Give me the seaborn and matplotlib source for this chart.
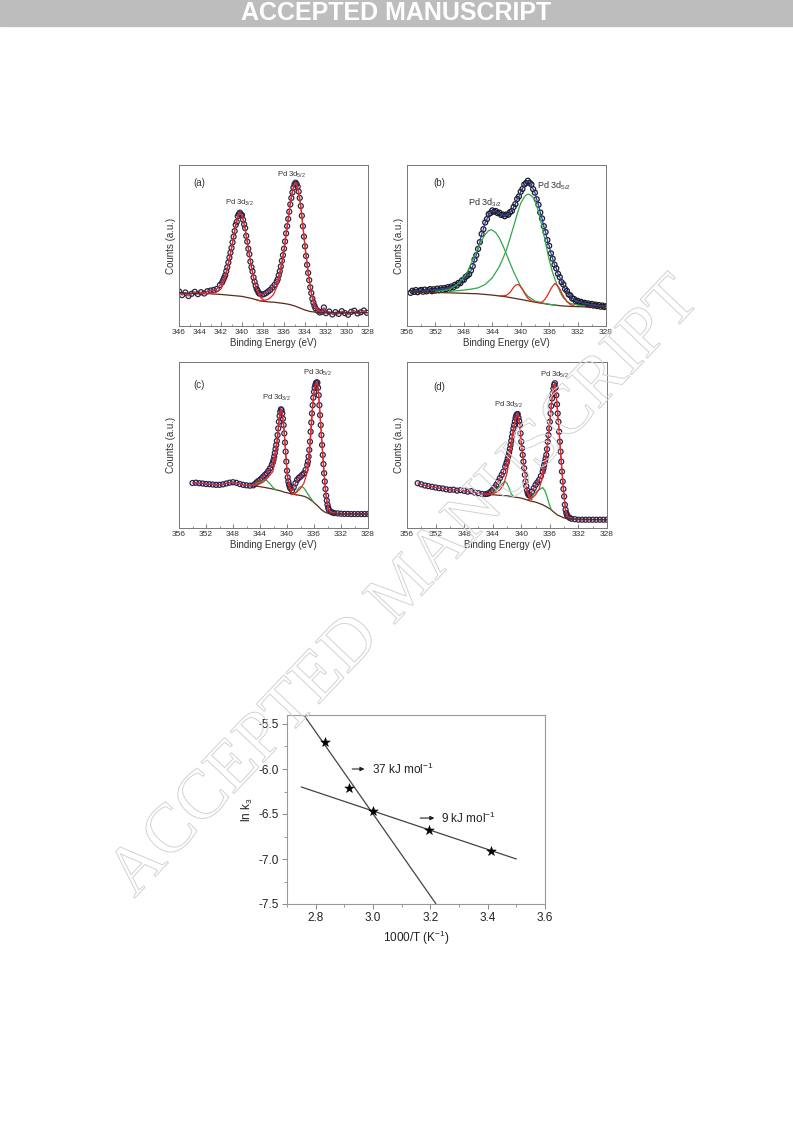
import numpy as np
import pandas as pd
import seaborn as sns
import matplotlib
matplotlib.use("Agg")
import matplotlib.pyplot as plt
import matplotlib.patheffects as pe
from matplotlib.patches import Rectangle
from matplotlib.ticker import MultipleLocator, FormatStrFormatter

# ---------------- XPS panel (a) ----------------
be_a = [346.0, 345.7, 345.4, 345.1, 344.8, 344.5, 344.2, 343.9, 343.6, 343.3, 343.0,
        342.7, 342.4, 342.1, 341.9,
        341.8, 341.7, 341.6, 341.5, 341.4, 341.3, 341.2, 341.1, 341.0, 340.9,
        340.8, 340.7, 340.6, 340.5, 340.4, 340.3, 340.2, 340.1, 340.0, 339.9,
        339.8, 339.7, 339.6, 339.5, 339.4, 339.3, 339.2, 339.1, 339.0, 338.9,
        338.8, 338.7, 338.6, 338.5, 338.4, 338.3,
        338.1, 337.9, 337.7, 337.5, 337.3, 337.1, 336.9, 336.7,
        336.6, 336.5, 336.4, 336.3, 336.2, 336.1, 336.0, 335.9, 335.8, 335.7,
        335.6, 335.5, 335.4, 335.3, 335.2, 335.1, 335.0, 334.9, 334.8, 334.7,
        334.6, 334.5, 334.4, 334.3, 334.2, 334.1, 334.0, 333.9, 333.8, 333.7,
        333.6, 333.5, 333.4, 333.3, 333.2, 333.1, 333.0,
        332.8, 332.6, 332.4, 332.2, 332.0,
        331.7, 331.4, 331.1, 330.8, 330.5, 330.2, 329.9, 329.6, 329.3, 329.0, 328.7, 328.4, 328.1]
cnt_a = [21.5, 19.2, 20.8, 18.6, 20.0, 21.2, 19.8, 21.0, 20.2, 21.6, 22.0,
         22.4, 23.0, 25.5, 27.0,
         28.5, 30.0, 31.5, 34.0, 36.5, 39.5, 42.5, 45.5, 48.5, 52.0,
         55.5, 59.0, 62.8, 64.6, 68.2, 69.5, 70.4, 69.2, 68.9, 66.0,
         63.2, 60.8, 56.0, 52.4, 48.0, 44.6, 40.0, 36.5, 33.9, 30.2,
         27.5, 25.0, 23.0, 21.8, 20.5, 20.0,
         19.5, 19.8, 20.5, 21.5, 22.5, 24.0, 25.5, 27.5,
         29.0, 31.5, 34.0, 37.0, 40.5, 44.0, 48.0, 52.5, 57.5, 62.0,
         66.5, 71.0, 75.5, 79.5, 83.0, 86.0, 88.0, 89.0, 88.2, 86.5,
         83.5, 79.5, 74.5, 68.5, 62.0, 55.5, 49.5, 43.5, 38.0, 33.0,
         28.5, 24.0, 20.5, 17.0, 14.5, 12.5, 11.0,
         9.5, 8.4, 8.8, 11.5, 8.0,
         9.0, 7.2, 8.6, 7.5, 9.2, 8.0, 7.0, 8.8, 9.5, 7.8, 8.5, 9.6, 8.2]
bg_be_a = [346, 345, 344, 343, 342, 341, 340, 339, 338.3, 337.5, 337, 336, 335.5, 335,
           334.5, 334, 333.5, 333, 332, 328]
bg_a = [20.6, 20.4, 20.2, 20.0, 19.6, 19.0, 18.4, 17.0, 15.6, 15.0, 14.8, 14.0, 13.4, 12.5,
        11.2, 9.9, 9.0, 8.6, 8.2, 8.2]
r1_be_a = [344.0, 343.0, 342.5, 342.0, 341.6, 341.2, 340.9, 340.6, 340.4, 340.2, 340.0,
           339.8, 339.5, 339.2, 338.9, 338.6, 338.2, 337.8]
r1_a = [20.2, 20.3, 20.8, 23.0, 29.5, 41.0, 51.5, 62.6, 67.8, 70.0, 68.7,
        63.7, 52.9, 40.4, 29.9, 22.4, 17.4, 15.6]
r2_be_a = [338.6, 338.2, 337.8, 337.4, 337.0, 336.6, 336.3, 336.0, 335.7, 335.4, 335.2,
           335.0, 334.8, 334.6, 334.4, 334.2, 334.0, 333.7, 333.4, 333.0, 332.5]
r2_a = [16.2, 15.6, 16.0, 17.0, 19.5, 25.5, 34.5, 46.5, 61.5, 76.5, 84.0,
        88.2, 87.8, 82.5, 73.5, 62.0, 49.8, 33.5, 21.0, 12.0, 8.8]

# ---------------- XPS panel (b) ----------------
be_b = [355.5, 355.25,
        355.0, 354.75, 354.5, 354.25, 354.0, 353.75, 353.5, 353.25,
        353.0, 352.75, 352.5, 352.25, 352.0, 351.75, 351.5, 351.25,
        351.0, 350.75, 350.5, 350.25, 350.0, 349.75, 349.5, 349.25,
        349.0, 348.75, 348.5, 348.25, 348.0, 347.75, 347.5, 347.25,
        347.0, 346.75, 346.5, 346.25, 346.0, 345.75, 345.5, 345.25,
        345.0, 344.75, 344.5, 344.25, 344.0, 343.75, 343.5, 343.25,
        343.0, 342.75, 342.5, 342.25, 342.0, 341.75, 341.5, 341.25,
        341.0, 340.75, 340.5, 340.25, 340.0, 339.75, 339.5, 339.25,
        339.0, 338.75, 338.5, 338.25, 338.0, 337.75, 337.5, 337.25,
        337.0, 336.75, 336.5, 336.25, 336.0, 335.75, 335.5, 335.25,
        335.0, 334.75, 334.5, 334.25, 334.0, 333.75, 333.5, 333.25,
        333.0, 332.75, 332.5, 332.25, 332.0, 331.75, 331.5, 331.25,
        331.0, 330.75, 330.5, 330.25, 330.0, 329.75, 329.5, 329.25,
        329.0, 328.75, 328.5, 328.25, 328.0]
cnt_b = [20.6, 21.9,
         21.2, 22.3, 21.0, 21.9, 22.4, 21.3, 22.6, 21.5,
         22.2, 22.9, 21.6, 22.8, 22.0, 23.2, 22.2, 23.4,
         22.5, 23.6, 22.9, 24.1, 23.3, 24.6, 24.0, 25.6,
         25.1, 26.8, 26.6, 28.4, 28.7, 30.5, 31.3, 32.2,
         34.5, 37.2, 41.3, 44.0, 47.9, 52.1, 57.2, 60.1,
         64.3, 66.4, 69.5, 70.2, 71.8, 71.0, 71.4, 70.1,
         70.4, 69.0, 69.2, 68.2, 69.3, 69.1, 70.7, 71.4,
         73.9, 75.7, 78.9, 80.5, 83.4, 85.1, 87.9, 88.8,
         90.2, 89.0, 87.9, 85.0, 82.8, 78.7, 75.3, 70.5,
         66.8, 62.0, 58.3, 53.4, 49.8, 45.1, 41.8, 38.1,
         35.8, 32.4, 30.3, 27.2, 25.8, 23.0, 21.8, 19.6,
         18.9, 17.1, 16.8, 15.4, 15.7, 14.6, 15.0, 13.9,
         14.4, 13.4, 14.0, 13.0, 13.7, 12.7, 13.3, 12.4,
         13.0, 12.0, 12.7, 11.8, 12.3]
bg_be_b = [355.5, 352, 350, 348, 346, 344, 342, 340, 338, 336, 334, 332, 330, 328]
bg_b = [21.0, 20.8, 20.6, 20.3, 20.0, 19.2, 18.1, 16.5, 14.8, 13.4, 12.4, 12.0, 11.8, 11.8]
g1_be_b = [352, 351, 350, 349, 348, 347.5, 347, 346.5, 346, 345.5, 345, 344.5, 344.1,
           343.5, 343, 342.5, 342, 341.5, 341, 340.5, 340, 339.5, 339, 338, 337, 336, 335]
g1_b = [21.5, 21.9, 22.9, 25.4, 30.4, 33.6, 38.4, 43.5, 48.6, 53.0, 56.9, 59.3, 59.8,
        58.0, 54.6, 49.9, 44.5, 39.0, 33.7, 29.1, 24.5, 21.2, 18.5, 15.5, 14.4, 13.5, 12.9]
g2_be_b = [350, 348, 347, 346, 345, 344, 343, 342.5, 342, 341.5, 341, 340.5, 340, 339.5,
           339.2, 338.9, 338.6, 338.3, 338, 337.5, 337, 336.5, 336, 335.5, 335, 334.5,
           334, 333.5, 333, 332, 331]
g2_b = [21.5, 22.3, 22.9, 23.7, 25.8, 29.9, 37.0, 42.0, 47.4, 54.5, 61.9, 69.5, 76.3, 80.0,
        81.5, 81.9, 81.2, 80.0, 78.4, 71.0, 61.9, 51.5, 41.2, 33.0, 26.8, 21.5,
        17.5, 15.3, 14.0, 13.0, 12.4]
r1_be_b = [343, 342.5, 342, 341.5, 341, 340.7, 340.4, 340.1, 339.8, 339.5, 339, 338.5, 338]
r1_b = [18.7, 18.7, 19.1, 20.9, 24.0, 25.4, 25.8, 24.9, 23.1, 20.6, 17.3, 15.6, 14.8]
r2_be_b = [337.5, 337, 336.6, 336.2, 335.9, 335.6, 335.2, 334.8, 334.5, 334.2, 333.9,
           333.5, 333, 332.5]
r2_b = [14.4, 14.8, 16.5, 19.2, 21.8, 24.2, 26.4, 25.0, 23.0, 20.2, 17.8, 15.2, 13.3, 12.5]

# ---------------- XPS panel (c) ----------------
be_c = [354.0, 353.5, 353.0, 352.5, 352.0, 351.5, 351.0, 350.5, 350.0, 349.5,
        349.0, 348.5, 348.0, 347.5, 347.0, 346.5, 346.0, 345.5, 345.0,
        344.75, 344.5, 344.25, 344.0, 343.75, 343.5, 343.25, 343.0, 342.75, 342.5, 342.25,
        342.1, 342.0, 341.9, 341.8, 341.7, 341.6, 341.5, 341.4, 341.3, 341.2,
        341.1, 341.0, 340.9, 340.8, 340.7, 340.6, 340.5, 340.4, 340.3, 340.2,
        340.1, 340.0, 339.9, 339.8, 339.7, 339.6, 339.5,
        339.25, 339.0, 338.75, 338.5, 338.25, 338.0, 337.75, 337.5, 337.25, 337.0,
        336.9, 336.8, 336.7, 336.6, 336.5, 336.4, 336.3, 336.2, 336.1, 336.0,
        335.9, 335.8, 335.7, 335.6, 335.5, 335.4, 335.3, 335.2, 335.1, 335.0,
        334.9, 334.8, 334.7, 334.6, 334.5, 334.4, 334.3, 334.2, 334.1, 334.0,
        333.9, 333.8,
        333.5, 333.25, 333.0, 332.5, 332.0, 331.5, 331.0, 330.5, 330.0, 329.5, 329.0,
        328.5, 328.0]
cnt_c = [27.1, 27.3, 27.0, 26.8, 26.5, 26.4, 26.2, 26.0, 26.0, 26.3,
         26.8, 27.3, 27.6, 27.2, 26.5, 26.0, 25.7, 25.5, 25.7,
         26.5, 27.5, 28.3, 29.0, 30.0, 31.0, 32.0, 33.0, 34.5, 36.0, 38.0,
         39.5, 41.0, 43.0, 45.2, 47.6, 50.0, 52.5, 56.0, 60.0, 64.0,
         67.5, 70.0, 71.5, 71.0, 69.0, 65.8, 62.0, 57.0, 51.5, 46.0,
         40.0, 34.5, 30.5, 28.0, 26.2, 24.8, 23.8,
         22.6, 24.5, 27.0, 29.0, 30.2, 31.0, 32.0, 33.0, 35.0, 38.0,
         40.0, 43.0, 47.0, 52.0, 58.0, 63.5, 69.0, 74.0, 78.5, 82.0,
         84.5, 86.2, 87.3, 87.8, 87.5, 84.5, 80.0, 74.0, 68.0, 62.0,
         56.0, 50.0, 44.0, 38.5, 33.0, 28.0, 23.5, 19.5, 16.5, 14.0,
         12.3, 11.0,
         9.8, 9.3, 9.0, 8.8, 8.6, 8.5, 8.5, 8.4, 8.4, 8.4, 8.4,
         8.4, 8.4]
bg_be_c = [345.2, 344, 343, 342, 341, 340.4, 339, 338, 337.4, 336.8, 336.2, 335.5, 334.9,
           334.4, 333.9, 333, 328]
bg_c = [25.7, 24.9, 24.2, 23.4, 22.4, 21.6, 20.3, 19.6, 19.0, 17.8, 16.0, 13.5, 11.0,
        9.6, 8.8, 8.5, 8.4]
g1_be_c = [345.2, 344.6, 344.0, 343.6, 343.3, 343.0, 342.6, 342.2, 341.8, 341.4]
g1_c = [25.7, 26.3, 27.5, 28.6, 29.0, 28.6, 27.0, 25.0, 23.4, 22.6]
g2_be_c = [339.2, 338.8, 338.5, 338.2, 337.9, 337.6, 337.3, 337.0, 336.7, 336.4, 336.1]
g2_c = [20.3, 21.0, 22.5, 24.3, 25.0, 24.5, 23.0, 21.0, 19.2, 17.5, 15.8]
r1_be_c = [345.2, 344.5, 344.0, 343.4, 342.8, 342.1, 341.8, 341.5, 341.2, 341.0, 340.9,
           340.7, 340.5, 340.3, 340.1, 339.9, 339.7, 339.4, 339.0, 338.6]
r1_c = [25.7, 26.0, 26.6, 28.0, 30.5, 34.0, 39.5, 50.0, 63.0, 69.5, 71.3,
        68.8, 61.8, 51.2, 39.8, 30.0, 25.3, 22.0, 20.6, 19.8]
r2_be_c = [339.4, 339.0, 338.5, 338.0, 337.5, 337.0, 336.7, 336.5, 336.2, 336.0, 335.8,
           335.6, 335.4, 335.2, 335.0, 334.8, 334.6, 334.4, 334.2, 334.0, 333.8, 333.5]
r2_c = [20.1, 20.6, 21.8, 23.8, 27.0, 33.5, 42.0, 54.0, 72.5, 81.5, 86.0,
        87.6, 84.4, 73.8, 61.8, 49.8, 38.3, 27.8, 19.3, 13.9, 10.8, 9.4]

# ---------------- XPS panel (d) ----------------
be_d = [354.5, 354.0, 353.5, 353.0, 352.5, 352.0, 351.5, 351.0, 350.5, 350.0,
        349.5, 349.0, 348.5, 348.0, 347.5, 347.0, 346.5, 346.0, 345.5, 345.0,
        344.75, 344.5, 344.25, 344.0, 343.75, 343.5, 343.25, 343.0, 342.75, 342.5, 342.25,
        342.1, 342.0, 341.9, 341.8, 341.7, 341.6, 341.5, 341.4, 341.3, 341.2,
        341.1, 341.0, 340.9, 340.8, 340.7, 340.6, 340.5, 340.4, 340.3, 340.2,
        340.1, 340.0, 339.9, 339.8, 339.7, 339.6, 339.5, 339.4, 339.3, 339.2,
        339.1, 339.0, 338.9, 338.8,
        338.5, 338.25, 338.0, 337.75, 337.5, 337.25, 337.0,
        336.9, 336.8, 336.7, 336.6, 336.5, 336.4, 336.3, 336.2, 336.1, 336.0,
        335.9, 335.8, 335.7, 335.6, 335.5, 335.4, 335.3, 335.2, 335.1, 335.0,
        334.9, 334.8, 334.7, 334.6, 334.5, 334.4, 334.3, 334.2, 334.1, 334.0,
        333.9, 333.8, 333.7, 333.6, 333.5,
        333.25, 333.0, 332.5, 332.0, 331.5, 331.0, 330.5, 330.0, 329.5, 329.0,
        328.5, 328.0]
cnt_d = [27.0, 26.3, 25.6, 25.2, 24.8, 24.4, 24.0, 23.8, 23.3, 23.0,
         23.1, 22.5, 22.8, 22.4, 21.9, 22.2, 21.3, 21.0, 20.5, 20.4,
         20.6, 21.0, 22.0, 23.0, 24.4, 26.0, 28.0, 30.0, 32.0, 34.0, 37.0,
         38.8, 40.0, 41.8, 43.6, 45.6, 47.7, 50.0, 52.5, 55.0, 57.5,
         60.0, 62.0, 64.2, 66.3, 67.8, 68.5, 68.6, 66.5, 64.5, 62.0,
         57.0, 52.0, 48.0, 44.0, 40.0, 36.0, 32.0, 28.0, 25.2, 22.8,
         21.0, 20.1, 19.7, 19.6,
         22.0, 24.0, 26.0, 27.5, 29.0, 31.3, 34.0,
         35.8, 37.8, 39.8, 41.8, 44.0, 47.5, 52.0, 56.0, 60.0, 64.0,
         69.0, 73.5, 78.0, 81.0, 84.0, 86.2, 87.2, 84.5, 80.0, 74.5,
         69.0, 64.0, 58.0, 52.0, 46.0, 40.0, 34.0, 28.0, 23.5, 19.0,
         14.0, 11.0, 9.0, 7.8, 7.0,
         6.2, 5.6, 5.3, 5.0, 5.0, 5.0, 5.0, 5.0, 5.0, 5.0,
         5.0, 5.0]
bg_be_d = [345, 344, 342, 340, 338.5, 338, 337, 336, 335, 334, 333, 328]
bg_d = [20.4, 20.0, 19.4, 18.0, 16.0, 15.6, 14.0, 11.6, 8.0, 6.0, 5.4, 5.0]
g1_be_d = [344.2, 343.6, 343.0, 342.6, 342.3, 342.0, 341.7, 341.4, 341.1]
g1_d = [20.3, 22.5, 25.0, 27.0, 28.0, 27.0, 24.0, 20.5, 19.0]
g2_be_d = [338.8, 338.5, 338.0, 337.5, 337.0, 336.7, 336.4, 336.1, 335.8]
g2_d = [17.5, 19.0, 21.5, 23.0, 24.4, 22.5, 19.0, 14.5, 11.0]
r1_be_d = [345.0, 344.0, 343.5, 343.0, 342.5, 342.0, 341.5, 341.0, 340.7, 340.5, 340.3,
           340.0, 339.7, 339.4, 339.1, 338.8, 338.5]
r1_d = [20.4, 20.5, 21.5, 23.0, 26.0, 33.0, 46.0, 60.5, 67.5, 68.5, 65.0,
        52.0, 40.0, 28.0, 21.0, 18.0, 17.0]
r2_be_d = [339.2, 338.8, 338.5, 338.0, 337.5, 337.0, 336.5, 336.0, 335.7, 335.3, 335.0,
           334.7, 334.4, 334.1, 333.8, 333.5]
r2_d = [17.0, 17.5, 18.0, 20.0, 23.5, 31.0, 43.0, 64.0, 78.0, 87.2, 74.5,
        58.0, 40.0, 23.5, 11.0, 7.0]

# ---------------- Arrhenius plot ----------------
inv_T = [2.832, 2.917, 3.001, 3.195, 3.413]
ln_k3 = [-5.70, -6.21, -6.47, -6.675, -6.91]
fit_hi_x = [2.75, 3.22]
fit_hi_y = [-5.36, -7.50]
fit_lo_x = [2.75, 3.50]
fit_lo_y = [-6.20, -7.00]
ea_text = ["37 kJ mol$^{-1}$", "9 kJ mol$^{-1}$"]

lbl_32 = "Pd 3d$_{3/2}$"
lbl_52 = "Pd 3d$_{5/2}$"

sns.set_theme(style="white")
plt.rcParams["font.family"] = ["Liberation Sans", "DejaVu Sans"]
plt.rcParams["mathtext.default"] = "regular"
plt.rcParams["axes.unicode_minus"] = False

W, H = 793, 1121
fig = plt.figure(figsize=(W / 100, H / 100), dpi=100)


def px_rect(l, t, r, b):
    return [l / W, 1 - b / H, (r - l) / W, (b - t) / H]


RED = "#e5261f"
GREEN = "#2ea84a"
BROWN = "#5a2a18"


def xps_panel(rect, be, cnt, bg_be, bg, comps, env_col, dot_col, xlim, major, minor, texts):
    ax = fig.add_axes(rect)
    sns.scatterplot(x=be, y=cnt, ax=ax, marker="o", s=13, facecolors="none",
                    edgecolor=dot_col, linewidth=0.9, zorder=2)
    sns.lineplot(x=be, y=cnt, ax=ax, color=env_col, lw=0.9, sort=False,
                 estimator=None, zorder=3)
    sns.lineplot(x=bg_be, y=bg, ax=ax, color=BROWN, lw=0.9, sort=False,
                 estimator=None, zorder=3)
    for cbe, cy, col in comps:
        sns.lineplot(x=cbe, y=cy, ax=ax, color=col, lw=0.9, sort=False,
                     estimator=None, zorder=4)
    ax.set_xlim(*xlim)
    ax.set_ylim(0, 100)
    ax.xaxis.set_major_locator(MultipleLocator(major))
    ax.xaxis.set_minor_locator(MultipleLocator(minor))
    ax.tick_params(axis="x", which="major", direction="in", length=3, width=0.6,
                   color="#666", labelsize=6, labelcolor="#333", pad=2, bottom=True)
    ax.tick_params(axis="x", which="minor", direction="in", length=1.6, width=0.5,
                   color="#666", bottom=True)
    ax.tick_params(axis="y", left=False, labelleft=False)
    for s in ax.spines.values():
        s.set_color("#777")
        s.set_linewidth(0.7)
    ax.set_xlabel("Binding Energy (eV)", fontsize=7, color="#333", labelpad=1.5)
    ax.set_ylabel("Counts (a.u.)", fontsize=7, color="#333", labelpad=2)
    for x, y, t, fs in texts:
        ax.text(x, y, t, fontsize=fs, ha="center", va="center", color="#333")
    return ax


xps_panel(px_rect(179, 165, 368, 326), be_a, cnt_a, bg_be_a, bg_a,
          [(r1_be_a, r1_a, RED), (r2_be_a, r2_a, RED)],
          "#c8326e", "#2a2840", (346, 328), 2, 1,
          [(344.1, 88.6, "(a)", 7), (340.2, 76.2, lbl_32, 5.5), (335.25, 93.8, lbl_52, 5.5)])

xps_panel(px_rect(407, 165, 606, 326), be_b, cnt_b, bg_be_b, bg_b,
          [(g1_be_b, g1_b, GREEN), (g2_be_b, g2_b, GREEN),
           (r1_be_b, r1_b, RED), (r2_be_b, r2_b, RED)],
          "#2e3f9e", "#1c1c24", (356, 328), 4, 2,
          [(351.5, 88.6, "(b)", 7), (345.0, 76.6, lbl_32, 6.5), (335.3, 87.0, lbl_52, 6.5)])

xps_panel(px_rect(179, 362, 368, 528), be_c, cnt_c, bg_be_c, bg_c,
          [(g1_be_c, g1_c, GREEN), (g2_be_c, g2_c, GREEN),
           (r1_be_c, r1_c, RED), (r2_be_c, r2_c, RED)],
          "#d0303a", "#2c2450", (356, 328), 4, 2,
          [(353.0, 86.1, "(c)", 7), (341.5, 78.1, lbl_32, 5.5), (335.5, 93.2, lbl_52, 5.5)])

xps_panel(px_rect(407, 362, 607, 528), be_d, cnt_d, bg_be_d, bg_d,
          [(g1_be_d, g1_d, GREEN), (g2_be_d, g2_d, GREEN),
           (r1_be_d, r1_d, RED), (r2_be_d, r2_d, RED)],
          "#d0303a", "#2c2450", (356, 328), 4, 2,
          [(351.5, 85.1, "(d)", 7), (341.8, 74.1, lbl_32, 5.5), (335.3, 92.2, lbl_52, 5.5)])

# Arrhenius plot
ax = fig.add_axes(px_rect(287, 715, 545, 904))
sns.lineplot(x=fit_hi_x, y=fit_hi_y, ax=ax, color="#444", lw=0.9, estimator=None)
sns.lineplot(x=fit_lo_x, y=fit_lo_y, ax=ax, color="#444", lw=0.9, estimator=None)
sns.scatterplot(x=inv_T, y=ln_k3, ax=ax, marker="*", s=50, color="black",
                edgecolor="black", linewidth=0.4, zorder=5)
ax.set_xlim(2.7, 3.6)
ax.set_ylim(-7.5, -5.4)
ax.xaxis.set_major_locator(MultipleLocator(0.2))
ax.xaxis.set_minor_locator(MultipleLocator(0.1))
ax.yaxis.set_major_locator(MultipleLocator(0.5))
ax.yaxis.set_minor_locator(MultipleLocator(0.25))
ax.xaxis.set_major_formatter(FormatStrFormatter("%.1f"))
ax.yaxis.set_major_formatter(FormatStrFormatter("%.1f"))
ax.tick_params(which="major", direction="out", length=3.5, width=0.7, color="#888",
               labelsize=8.5, labelcolor="#222", pad=2, bottom=True, left=True)
ax.tick_params(which="minor", direction="out", length=2, width=0.6, color="#888",
               bottom=True, left=True)
for s in ax.spines.values():
    s.set_color("#999")
    s.set_linewidth(0.8)
ax.set_xlabel("1000/T (K$^{-1}$)", fontsize=8.5, color="#222", labelpad=4)
ax.set_ylabel("ln k$_3$", fontsize=8.5, color="#222", labelpad=3)
ax.annotate("", xy=(2.98, -6.0), xytext=(2.918, -6.0),
            arrowprops=dict(arrowstyle="-|>", color="#222", lw=0.8, mutation_scale=6))
ax.text(2.996, -6.0, ea_text[0], fontsize=8.5, va="center", color="#222")
ax.annotate("", xy=(3.224, -6.545), xytext=(3.155, -6.545),
            arrowprops=dict(arrowstyle="-|>", color="#222", lw=0.8, mutation_scale=6))
ax.text(3.236, -6.545, ea_text[1], fontsize=8.5, va="center", color="#222")

# header bar
fig.add_artist(Rectangle((0, 1 - 26 / H), 1, 26 / H, transform=fig.transFigure,
                         color="#bdbdbd", zorder=0))
fig.text(0.5, 1 - 13.5 / H, "ACCEPTED MANUSCRIPT", ha="center", va="center",
         color="white", fontsize=18, fontweight="bold")

# diagonal watermark (outline only)
fig.text(406 / W, 1 - 588 / H, "ACCEPTED MANUSCRIPT", rotation=46.5, ha="center",
         va="center", fontsize=50, family="Liberation Serif", color="none",
         path_effects=[pe.Stroke(linewidth=0.7, foreground="#d2d2d2")], zorder=10)

fig.savefig("out.png", dpi=100)
